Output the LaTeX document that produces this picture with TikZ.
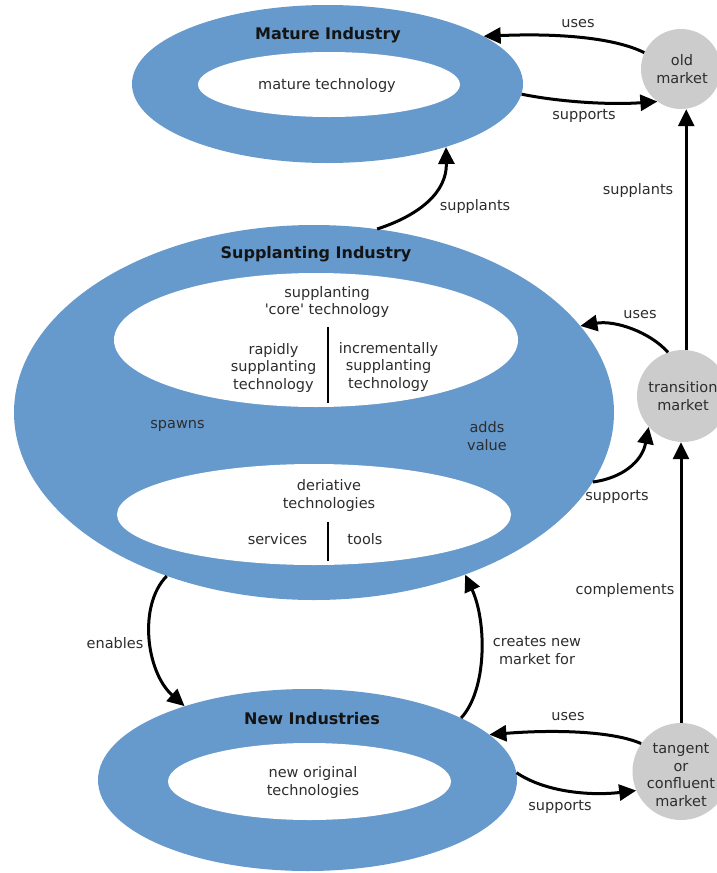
\documentclass[tikz,border=0pt]{standalone}
\usepackage{fontspec}
\setmainfont{DejaVu Sans}[Ligatures=TeXOff]
\usetikzlibrary{arrows.meta,shapes.geometric}
\definecolor{indblue}{RGB}{102,153,204}
\definecolor{mktgray}{RGB}{204,204,204}
\definecolor{txtgray}{RGB}{45,45,45}
\definecolor{ttlblack}{RGB}{20,20,20}
\tikzset{
  ring/.style={ellipse, fill=indblue, draw=none, inner sep=0pt},
  hole/.style={ellipse, fill=white, draw=none, inner sep=0pt},
  mkt/.style={circle, fill=mktgray, draw=none, inner sep=0pt, minimum size=#1},
  lbl/.style={text=txtgray, align=center, inner sep=0pt, font=\fontsize{14.5}{17.5}\selectfont},
  ttl/.style={text=ttlblack, align=center, inner sep=0pt, font=\fontsize{16}{19}\selectfont\bfseries},
  arr/.style={line width=3pt, draw=black, -{Triangle[length=17pt,width=16pt]}},
  divider/.style={line width=1.6pt, draw=black},
}
\begin{document}
\begin{tikzpicture}[x=1pt,y=-1pt]
\useasboundingbox (0,0) rectangle (717,873);

% --- ellipses ---
\node[ring, minimum width=391, minimum height=158] (mature) at (327.5,84) {};
\node[hole, minimum width=262, minimum height=65] (mtech) at (329,84.5) {};

\node[ring, minimum width=600, minimum height=375] (supp) at (314,412.5) {};
\node[hole, minimum width=404, minimum height=134] (core) at (316,340) {};
\node[hole, minimum width=394, minimum height=101] (deriv) at (314,514.5) {};

\node[ring, minimum width=419, minimum height=182] (newind) at (307.5,780) {};
\node[hole, minimum width=283, minimum height=77] (newtech) at (309.5,781.5) {};

% --- markets ---
\node[mkt=80] (old) at (681,69) {};
\node[lbl] at (682,69) {old\\market};
\node[mkt=92] (trans) at (683,396) {};
\node[lbl] at (683,396) {transition\\market};
\node[mkt=97] (tang) at (681,771.5) {};
\node[lbl] at (681,775) {tangent\\or\\confluent\\market};

% --- texts inside ellipses ---
\node[ttl] (tmature) at (328,35) {Mature Industry};
\node[lbl] (tmtech) at (327,85) {mature technology};

\node[ttl] (tsupp) at (316,254) {Supplanting Industry};
\node[lbl] (tcore) at (327,302) {supplanting\\'core' technology};
\node[lbl] (trapid) at (273.5,367.5) {rapidly\\supplanting\\technology};
\node[lbl] (tincr) at (388.5,366.5) {incrementally\\supplanting\\technology};
\draw[divider] (328,327) -- (328,403);
\node[lbl] (tspawns) at (177.5,426) {spawns};
\node[lbl] (tadds) at (487,436) {adds\\value};
\node[lbl] (tderiv) at (329,495.5) {deriative\\technologies};
\node[lbl] (tserv) at (277.5,539) {services};
\node[lbl] (ttools) at (365,539) {tools};
\draw[divider] (328,522) -- (328,561);

\node[ttl] (tnew) at (312,719) {New Industries};
\node[lbl] (tnewtech) at (313,782.5) {new original\\technologies};

% --- connectors ---
\draw[arr] (old.156) .. controls (615,38) and (560,33) .. (mature.17);
\node[lbl] at (578,24) {uses};
\draw[arr] (mature.-3) .. controls (560,102) and (610,105) .. (old.234);
\node[lbl] at (584,116) {supports};

\draw[arr] (trans.86) -- (trans.86 |- old.south);
\node[lbl] at (638,190) {supplants};

\draw[arr] (supp.71) .. controls (420,215) and (447,192) .. (mature.-28.7);
\node[lbl] at (475,206) {supplants};

\draw[arr] (trans.109) .. controls (650,332) and (615,320) .. (supp.18.5);
\node[lbl] at (640,315) {uses};
\draw[arr] (supp.-14.7) .. controls (622,478) and (642,462) .. (trans.222);
\node[lbl] at (617,497) {supports};

\draw[arr] (tang.north) -- (tang.north |- trans.south);
\node[lbl] at (625,590) {complements};

\draw[arr] (supp.228.6) .. controls (138,605) and (146,672) .. (newind.149.6);
\node[lbl] at (115,643) {enables};
\draw[arr] (newind.22.2) .. controls (487,690) and (487,622) .. (supp.-47.6);
\node[lbl] at (537,650.5) {creates new\\market for};

\draw[arr] (tang.145) .. controls (615,732) and (560,729) .. (newind.14.7);
\node[lbl] at (568,717) {uses};
\draw[arr] (newind.2) .. controls (545,792) and (590,796) .. (tang.203);
\node[lbl] at (560,807) {supports};
\end{tikzpicture}
\end{document}
